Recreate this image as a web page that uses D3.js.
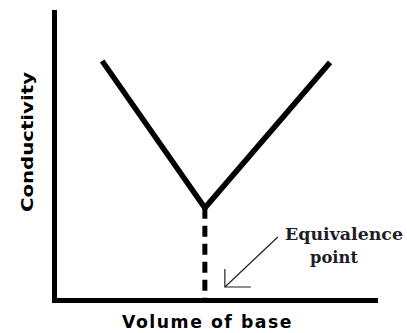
<!DOCTYPE html>
<html>
<head>
<meta charset="utf-8">
<script src="https://cdn.jsdelivr.net/npm/d3@7"></script>
<style>
  html, body { margin: 0; padding: 0; background: #fff; }
  svg { display: block; }
</style>
</head>
<body>
<svg id="chart" width="407" height="333"></svg>
<script>
// Conductometric titration curve: conductivity falls, then rises past the equivalence point
const volume = [1.5, 4.7, 8.6];
const conductivity = [8.3, 3.2, 8.25];
const equivalenceVolume = 4.7;
const xTitle = "Volume of base";
const yTitle = "Conductivity";
const noteLines = ["Equivalence", "point"];

const svg = d3.select("#chart");
const W = 407, H = 333;
const margin = { left: 54, right: 32, top: 12, bottom: 33 };

const x = d3.scaleLinear().domain([0, 10]).range([margin.left, W - margin.right]);
const y = d3.scaleLinear().domain([0, 10]).range([H - margin.bottom, margin.top]);

// Axes: heavy black lines, no ticks
const xAxis = svg.append("g")
  .attr("transform", `translate(0,${y(0)})`)
  .call(d3.axisBottom(x).tickValues([]).tickSizeOuter(0));
const yAxis = svg.append("g")
  .attr("transform", `translate(${x(0)},0)`)
  .call(d3.axisLeft(y).tickValues([]).tickSizeOuter(0));
[xAxis, yAxis].forEach(g => g.select(".domain")
  .attr("stroke", "#000").attr("stroke-width", 5).attr("stroke-linecap", "square"));

// Dashed drop line at the equivalence point
const minIdx = d3.minIndex(conductivity);
svg.append("line")
  .attr("x1", x(equivalenceVolume)).attr("x2", x(equivalenceVolume))
  .attr("y1", y(conductivity[minIdx])).attr("y2", y(0))
  .attr("stroke", "#000").attr("stroke-width", 5)
  .attr("stroke-dasharray", "11,7");

// V-shaped curve
const pts = volume.map((v, i) => [v, conductivity[i]]);
svg.append("path")
  .datum(pts)
  .attr("fill", "none")
  .attr("stroke", "#000")
  .attr("stroke-width", 5.5)
  .attr("stroke-linejoin", "round")
  .attr("d", d3.line().x(d => x(d[0])).y(d => y(d[1])));

// Arrow pointing to the equivalence point
const tipX = x(equivalenceVolume) + 20, tipY = y(0) - 13;
const tailX = tipX + 53, tailY = tipY - 50;
const arrow = svg.append("g").attr("stroke", "#222").attr("stroke-width", 1.2).attr("fill", "none");
arrow.append("line").attr("x1", tailX).attr("y1", tailY).attr("x2", tipX).attr("y2", tipY);
arrow.append("path").attr("d", `M${tipX},${tipY - 18}V${tipY}H${tipX + 26}`);

// Annotation text
const note = svg.append("g")
  .attr("font-family", "'DejaVu Serif', 'Liberation Serif', serif")
  .attr("font-weight", "bold")
  .attr("fill", "#1e1e28");
note.append("text")
  .attr("x", 285).attr("y", 240)
  .attr("font-size", 17.5)
  .attr("textLength", 118).attr("lengthAdjust", "spacingAndGlyphs")
  .text(noteLines[0]);
note.append("text")
  .attr("x", 334).attr("y", 263)
  .attr("text-anchor", "middle")
  .attr("font-size", 17.5)
  .attr("textLength", 48).attr("lengthAdjust", "spacingAndGlyphs")
  .text(noteLines[1]);

// Axis titles
svg.append("text")
  .attr("x", (x(0) + x(10)) / 2 - 7).attr("y", 328)
  .attr("text-anchor", "middle")
  .attr("font-family", "'DejaVu Sans', Verdana, sans-serif")
  .attr("font-weight", "bold")
  .attr("font-size", 17)
  .attr("letter-spacing", 1.5)
  .attr("textLength", 171).attr("lengthAdjust", "spacingAndGlyphs")
  .attr("fill", "#000")
  .text(xTitle);

svg.append("text")
  .attr("transform", `translate(33,${142}) rotate(-90)`)
  .attr("text-anchor", "middle")
  .attr("font-family", "'DejaVu Sans', Verdana, sans-serif")
  .attr("font-weight", "bold")
  .attr("font-size", 15)
  .attr("textLength", 140).attr("lengthAdjust", "spacingAndGlyphs")
  .attr("fill", "#000")
  .text(yTitle);
</script>
</body>
</html>
